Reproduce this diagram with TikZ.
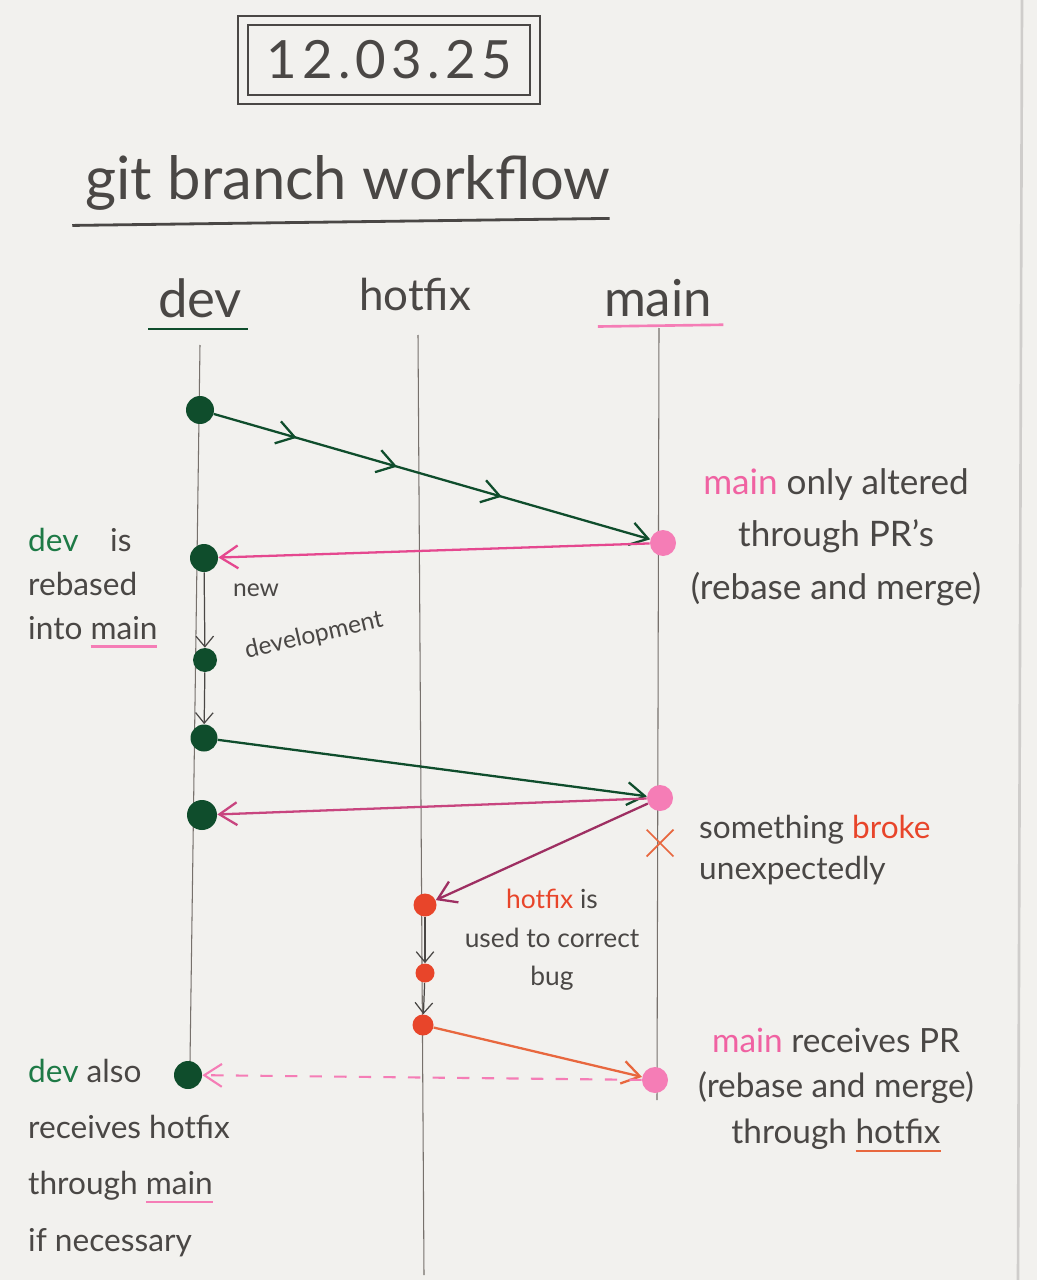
\documentclass[tikz,border=0pt]{standalone}
\usepackage{fontspec}
\setmainfont{Lato}
\usetikzlibrary{arrows.meta, decorations.markings, shapes.misc}

\definecolor{paper}{HTML}{F2F1EE}
\definecolor{pencil}{HTML}{4A4745}
\definecolor{lanegray}{HTML}{77716C}
\definecolor{devgreen}{HTML}{0F4D2C}
\definecolor{devtext}{HTML}{1E7A46}
\definecolor{mainpink}{HTML}{F57DB6}
\definecolor{maintext}{HTML}{F062A2}
\definecolor{pinkline}{HTML}{E5488F}
\definecolor{roseline}{HTML}{C8457F}
\definecolor{plumline}{HTML}{9E2F62}
\definecolor{fixred}{HTML}{E8452A}
\definecolor{fixline}{HTML}{E8673E}

\newcommand{\penul}[2]{{\setbox0\hbox{#2}\rlap{\textcolor{#1}{\rule[-0.5ex]{\wd0}{1.4pt}}}\box0}}
\newcommand{\devw}{\textcolor{devtext}{dev}}
\newcommand{\mainw}{\textcolor{maintext}{main}}
\newcommand{\fixw}{\textcolor{fixred}{hotfix}}

\tikzset{
  hand/.style={text=pencil, font=\fontsize{18}{23}\selectfont},
  lane/.style={draw=lanegray, line width=0.6pt},
  devdot/.style={circle, fill=devgreen, minimum size=0.56cm, inner sep=0pt},
  maindot/.style={circle, fill=mainpink, minimum size=0.52cm, inner sep=0pt},
  fixdot/.style={circle, fill=fixred, minimum size=0.46cm, inner sep=0pt},
  tip/.style={-{Straight Barb[length=10pt,width=13pt]}},
  push/.style={tip, draw=devgreen, line width=1.3pt},
  pull/.style={tip, draw=#1, line width=1.3pt},
  advance/.style={-{Straight Barb[length=6pt,width=10pt]}, draw=pencil, line width=0.7pt},
  backport/.style={tip, draw=mainpink, line width=1.2pt, dash pattern=on 7pt off 7pt},
  midarrows/.style={postaction={decorate}, decoration={markings,
    mark=at position 0.19 with {\arrow[devgreen, line width=1.3pt]{Straight Barb[length=10pt,width=13pt]}},
    mark=at position 0.42 with {\arrow[devgreen, line width=1.3pt]{Straight Barb[length=10pt,width=13pt]}},
    mark=at position 0.66 with {\arrow[devgreen, line width=1.3pt]{Straight Barb[length=10pt,width=13pt]}}}},
}

\begin{document}
\begin{tikzpicture}[x=0.02cm, y=-0.02cm]
  \fill[paper] (0,0) rectangle (1037,1280);
  \useasboundingbox (0,0) rectangle (1037,1280);
  % edge of the page
  \draw[lanegray!35, line width=1.5pt] (1022,0) -- (1018,1280);

  % date and title
  \node[draw=pencil, double=paper, double distance=4.5pt, line width=0.9pt,
        minimum width=5.84cm, minimum height=1.58cm, hand,
        font=\fontsize{30}{30}\selectfont\addfontfeature{LetterSpace=10}] (date) at (389,60) {12.03.25};
  \node[hand, font=\fontsize{34}{34}\selectfont] (title) at (348,183) {git branch workflow};
  \draw[pencil, line width=1.6pt] ([xshift=-4pt,yshift=-5pt]title.south west) -- ([xshift=-4pt,yshift=-1pt]title.south east);

  % branch heads
  \node[hand, font=\fontsize{30}{30}\selectfont] (devhead) at (200,298) {dev};
  \node[hand, font=\fontsize{25}{25}\selectfont] (fixhead) at (415,295) {hotfix};
  \node[hand, font=\fontsize{29}{29}\selectfont] (mainhead) at (658,298) {main};
  \draw[devgreen, line width=1.5pt] ([xshift=-2pt,yshift=-3pt]devhead.south west) -- ([yshift=-3pt]devhead.south east);
  \draw[mainpink, line width=1.5pt] ([yshift=-2pt]mainhead.south west) -- ([xshift=3pt,yshift=-1pt]mainhead.south east);

  % lanes
  \coordinate (devtop) at (200,345);
  \coordinate (devbot) at (190,1062);
  \coordinate (fixtop) at (418,335);
  \coordinate (fixbot) at (424,1275);
  \coordinate (maintop) at (659,328);
  \coordinate (mainbot) at (657,1100);
  \draw[lane] (devtop) -- (devbot);
  \draw[lane] (fixtop) -- (fixbot);
  \draw[lane] (maintop) -- (mainbot);

  % commits
  \node[devdot] (d1) at (200,410) {};
  \node[devdot] (d2) at (204,558) {};
  \node[devdot, minimum size=0.48cm] (d3) at (205,660) {};
  \node[devdot, minimum size=0.54cm] (d4) at (204,738) {};
  \node[devdot, minimum size=0.6cm] (d5) at (202,815) {};
  \node[devdot] (d6) at (188,1075) {};
  \node[maindot] (m1) at (663,543) {};
  \node[maindot] (m2) at (660,798) {};
  \node[maindot] (m3) at (655,1080) {};
  \node[fixdot] (h1) at (425,905) {};
  \node[fixdot, minimum size=0.38cm] (h2) at (425,973) {};
  \node[fixdot, minimum size=0.42cm] (h3) at (423,1025) {};
  \node[draw=fixline, cross out, line width=1pt, minimum size=0.5cm] (broke) at (660,843) {};

  % merges and rebases
  \draw[push, midarrows] (d1) -- (m1);
  \draw[pull=pinkline] (m1) -- (d2);
  \draw[advance] (d2) -- (d3);
  \draw[advance] (d3) -- (d4);
  \draw[push] (d4) -- (m2);
  \draw[pull=roseline] (m2) -- (d5);
  \draw[pull=plumline] (m2) -- (h1);
  \draw[advance] (h1) -- (h2);
  \draw[advance] (h2) -- (h3);
  \draw[pull=fixline] (h3) -- (m3);
  \draw[backport] (m3) -- (d6);

  % notes
  \node[hand, font=\fontsize{14}{14}\selectfont] (newnote) at (256,590) {new};
  \node[hand, font=\fontsize{14}{14}\selectfont, rotate=13] (devnote) at (314,636) {development};
  \node[hand, font=\fontsize{18}{25}\selectfont, align=left, anchor=west] (rebasenote) at (22,588) {\devw\quad is\\rebased\\into \penul{mainpink}{main}};
  \node[hand, font=\fontsize{20}{30}\selectfont, align=center] (prnote) at (836,537) {\mainw\ only altered\\through PR's\\(rebase and merge)};
  \node[hand, align=left, anchor=west] (brokenote) at (693,850) {something \textcolor{fixred}{broke}\\unexpectedly};
  \node[hand, font=\fontsize{15}{22}\selectfont, align=center] (fixnote) at (552,940) {\fixw\ is\\used to correct\\bug};
  \node[hand, font=\fontsize{19}{26}\selectfont, align=center] (hotfixnote) at (836,1090) {\mainw\ receives PR\\(rebase and merge)\\through \penul{fixline}{hotfix}};
  \node[hand, font=\fontsize{18}{32}\selectfont, align=left, anchor=north west] (backnote) at (22,1053) {\devw\ also\\receives hotfix\\through \penul{mainpink}{main}\\if necessary};
\end{tikzpicture}
\end{document}
